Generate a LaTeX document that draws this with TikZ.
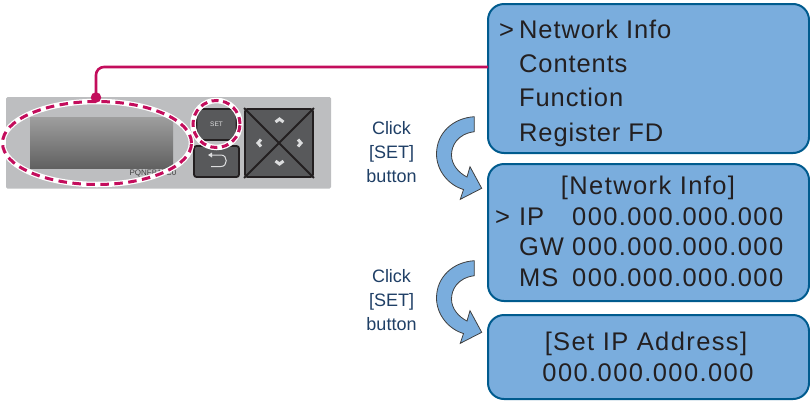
\documentclass[tikz,border=0pt]{standalone}
\usepackage{fontspec}
\setmainfont{Liberation Sans}
\newfontfamily\boxfont[LetterSpace=3.5]{Liberation Sans}
\newfontfamily\numfont[LetterSpace=5.5]{Liberation Sans}
\definecolor{boxfill}{HTML}{7AADDD}
\definecolor{boxline}{HTML}{005B8E}
\definecolor{crim}{HTML}{C30D5C}
\definecolor{panel}{HTML}{BDBEC0}
\definecolor{keyfill}{HTML}{58595B}
\definecolor{keyline}{HTML}{231F20}
\definecolor{clicktxt}{HTML}{1F3F66}
\definecolor{glyph}{HTML}{DCDDDE}
\tikzset{
  menubox/.style={draw=boxline,line width=2pt,fill=boxfill,rounded corners=16pt},
  menutxt/.style={inner sep=0pt,text=keyline,font=\boxfont\fontsize{25.5}{25.5}\selectfont},
  numtxt/.style={inner sep=0pt,text=keyline,font=\numfont\fontsize{25.5}{25.5}\selectfont},
  clicklbl/.style={inner sep=0pt,align=center,text=clicktxt,font=\fontsize{18}{24}\selectfont},
  turnarrow/.style={draw=black!75,line width=0.8pt,fill=boxfill,line join=miter},
  keybox/.style={draw=keyline,line width=1.8pt,fill=keyfill,rounded corners=2.5pt},
  halo/.style={draw=white,line width=5.5pt},
  dashring/.style={draw=crim,line width=3pt,dash pattern=on 8.5pt off 5.5pt},
  chev/.style={draw=glyph,line width=3pt},
}
\begin{document}
\begin{tikzpicture}[x=1pt,y=-1pt]
\useasboundingbox (0,0) rectangle (810,400);
% panel
\fill[panel,rounded corners=1.5pt] (6,97) rectangle (331,188.5);
\shade[top color=black!38,bottom color=black!62] (30,117) rectangle (173,168);
\node[inner sep=0pt,text=black!75,font=\fontsize{8}{8}\selectfont] (model) at (153,173) {PQNFB17C0};
% keys
\node[keybox,minimum width=45pt,minimum height=31pt,inner sep=0pt] (backkey) at (216.5,161.5) {};
\draw[draw=glyph,line width=1pt] (212,155) -- (221,155) .. controls (228,155) and (228,166.5) .. (221,166.5) -- (211,166.5);
\fill[glyph] (212,152.5) -- (212,157.5) -- (208,155) -- cycle;
\node[keybox,minimum width=40pt,minimum height=31pt,inner sep=0pt,text=glyph,font=\fontsize{6.5}{6.5}\selectfont] (setkey) at (216.5,124.5) {SET};
\node[keybox,minimum width=68pt,minimum height=68pt,inner sep=0pt] (pad) at (279,143) {};
\draw[keyline,line width=1.8pt] (pad.north west) -- (pad.south east) (pad.north east) -- (pad.south west);
\draw[chev] (275.5,122) -- (279.5,119) -- (283.5,122);
\draw[chev] (275.5,161) -- (279.5,164) -- (283.5,161);
\draw[chev] (261,139.5) -- (258,143) -- (261,146.5);
\draw[chev] (298,139.5) -- (301,143) -- (298,146.5);
% rings
\draw[halo] (97,143) ellipse[x radius=94.5pt,y radius=41.5pt];
\draw[dashring] (97,143) ellipse[x radius=94.5pt,y radius=41.5pt];
\draw[halo] (216.5,124) circle[radius=23.5pt];
\draw[dashring,dash pattern=on 7pt off 4.6pt] (216.5,124) circle[radius=23.5pt];
% boxes
\draw[menubox] (488,4) rectangle (809,153);
\coordinate (box1in) at (488,67);
\node[menutxt,anchor=base west] (m0) at (499,38.5) {>};
\node[menutxt,anchor=base west] (m1) at (519,38.5) {Network Info};
\node[menutxt,anchor=base west] (m2) at (519,72.5) {Contents};
\node[menutxt,anchor=base west] (m3) at (519,106.5) {Function};
\node[menutxt,anchor=base west] (m4) at (519,141.5) {Register FD};
\draw[menubox] (488,164) rectangle (809,301);
\node[numtxt,anchor=base] (n0) at (648,194.5) {[Network Info]};
\node[menutxt,anchor=base west] (n1a) at (495,225) {>};
\node[menutxt,anchor=base west] (n1) at (519,225) {IP};
\node[numtxt,anchor=base west] (n1v) at (572,225) {000.000.000.000};
\node[menutxt,anchor=base west] (n2) at (519,255) {GW};
\node[numtxt,anchor=base west] (n2v) at (572,255) {000.000.000.000};
\node[menutxt,anchor=base west] (n3) at (519,286) {MS};
\node[numtxt,anchor=base west] (n3v) at (572,286) {000.000.000.000};
\draw[menubox] (488,315) rectangle (809,399);
\node[numtxt,anchor=base] (s0) at (646,350.5) {[Set IP Address]};
\node[numtxt,anchor=base] (s1) at (648,381.5) {000.000.000.000};
% connector
\node[circle,fill=crim,inner sep=0pt,minimum size=10.5pt] (dot) at (96,97.5) {};
\draw[crim,line width=2.6pt,rounded corners=8pt] (dot.center) -- (96,67) -- (box1in);
% click labels and arrows
\node[clicklbl] (c1) at (391.5,152) {Click\\{[SET]}\\button};
\node[clicklbl] (c2) at (391.5,300.5) {Click\\{[SET]}\\button};
\foreach \dy in {0,144}{
\draw[turnarrow,shift={(0,\dy)}] (474.3,116.7) -- (474.3,131.7)
  .. controls (457,134) and (451.5,146) .. (451.5,155)
  .. controls (451.5,165) and (459,173) .. (467,177)
  -- (470,166.7) -- (481.7,188.3) -- (460.3,199.3) -- (463.5,189.5)
  .. controls (448,185) and (436.5,170) .. (436.5,154)
  .. controls (436.5,133) and (453,118) .. (474.3,116.7) -- cycle;
}
\end{tikzpicture}
\end{document}
